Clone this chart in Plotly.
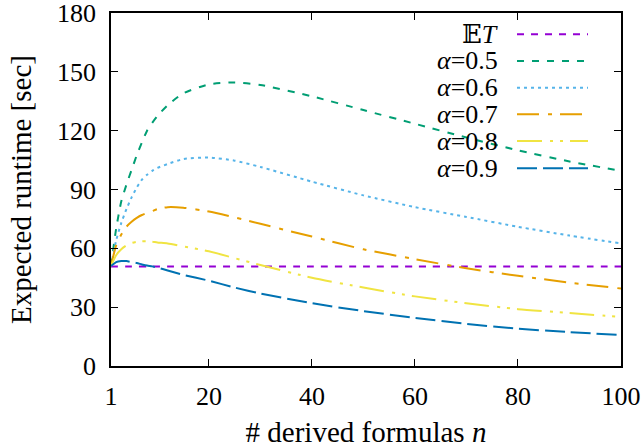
import plotly.graph_objects as go

n = [1, 2, 3, 4, 5, 6, 7, 8, 9, 10, 12, 15, 20, 25, 30, 40, 50, 60, 70, 80, 90, 100]
ET = [50.7] * len(n)
a05 = [51, 70, 84, 92.5, 100, 107.5, 114, 120, 124, 127.5, 133, 139, 143.6, 144.6, 143.3, 137.5, 130.5, 123.5, 116.5, 110, 104.3, 99.5]
a06 = [51, 64, 73, 80, 86, 91, 95, 97.5, 99.5, 101, 103, 105.5, 106.3, 104.7, 101.5, 94, 87, 81, 76, 71, 66.5, 62.5]
a07 = [51, 61.5, 67, 71, 73.5, 75.5, 77, 78, 79, 80, 81, 80.7, 78.8, 75.8, 72.5, 66, 59.5, 54.5, 49.8, 46, 42.5, 39.5]
a08 = [51, 56.5, 59.5, 61.5, 62.7, 63.3, 63.6, 63.6, 63.4, 63, 62.5, 61, 58.5, 55, 51.5, 45, 40, 35.5, 32, 29, 27, 25]
a09 = [51, 53, 53.5, 53.5, 53, 52.5, 51.8, 51.2, 50.8, 50.2, 48.7, 46.5, 43.5, 40, 37, 32, 28, 24.5, 21.5, 19, 17.3, 15.8]

labels = ["𝔼<i>T</i>", "<i>α</i>=0.5", "<i>α</i>=0.6", "<i>α</i>=0.7", "<i>α</i>=0.8", "<i>α</i>=0.9"]
series = [ET, a05, a06, a07, a08, a09]
colors = ["#9400D3", "#009E73", "#56B4E9", "#E69F00", "#F0E442", "#0072B2"]
dashes = ["7px,7px", "7px,8px", "3px,4px", "22px,9px,4px,8px",
          "25px,8px,3px,7px,3px,7px", "20px,6px"]

x_ticks = [1, 20, 40, 60, 80, 100]
y_ticks = [0, 30, 60, 90, 120, 150, 180]

FONT = "'Liberation Serif', 'DejaVu Serif', serif"
fig = go.Figure()
for ys, c, d in zip(series, colors, dashes):
    fig.add_trace(go.Scatter(x=n, y=ys, mode="lines",
                             line=dict(color=c, width=2, dash=d, shape="spline", smoothing=0.6),
                             showlegend=False, hoverinfo="skip"))

# gnuplot-style key: text right-aligned, sample on the right
L, R, T, B = 111, 621, 13, 366
row_px = [34.3, 61, 87.7, 114.3, 141, 168.3]
for lab, c, d, yp in zip(labels, colors, dashes, row_px):
    yy = (B - yp) / (B - T)
    fig.add_annotation(x=(500 - L) / (R - L), y=yy, xref="paper", yref="paper",
                       text=lab, showarrow=False, xanchor="right", yanchor="middle",
                       font=dict(family=FONT, size=26, color="black"))
    fig.add_shape(type="line", xref="paper", yref="paper",
                  x0=(517 - L) / (R - L), x1=(588 - L) / (R - L), y0=yy, y1=yy,
                  line=dict(color=c, width=2, dash=d))

axis_common = dict(showline=True, linecolor="black", linewidth=1.5, mirror="allticks",
                   ticks="inside", ticklen=7, tickcolor="black", tickwidth=1,
                   showgrid=False, zeroline=False, automargin=False,
                   ticklabeloverflow="allow",
                   tickfont=dict(family=FONT, size=26, color="black"))
fig.update_xaxes(range=[1, 100], tickvals=x_ticks, ticktext=[str(v) for v in x_ticks],
                 title=dict(text="# derived formulas <i>n</i>", font=dict(family=FONT, size=29, color="black"), standoff=12),
                 ticklabelstandoff=6, **axis_common)
fig.update_yaxes(range=[0, 180], tickvals=y_ticks, ticktext=[str(v) for v in y_ticks],
                 title=dict(text="Expected runtime [sec]", font=dict(family=FONT, size=29, color="black"), standoff=17),
                 ticklabelstandoff=8, **axis_common)
fig.update_layout(width=641, height=448, margin=dict(l=L, r=641 - R, t=T, b=448 - B, autoexpand=False),
                  plot_bgcolor="white", paper_bgcolor="white",
                  font=dict(family=FONT, color="black"))
fig.write_html("out.html", config={"displayModeBar": False},
               post_script="document.body.style.margin='0px';")
